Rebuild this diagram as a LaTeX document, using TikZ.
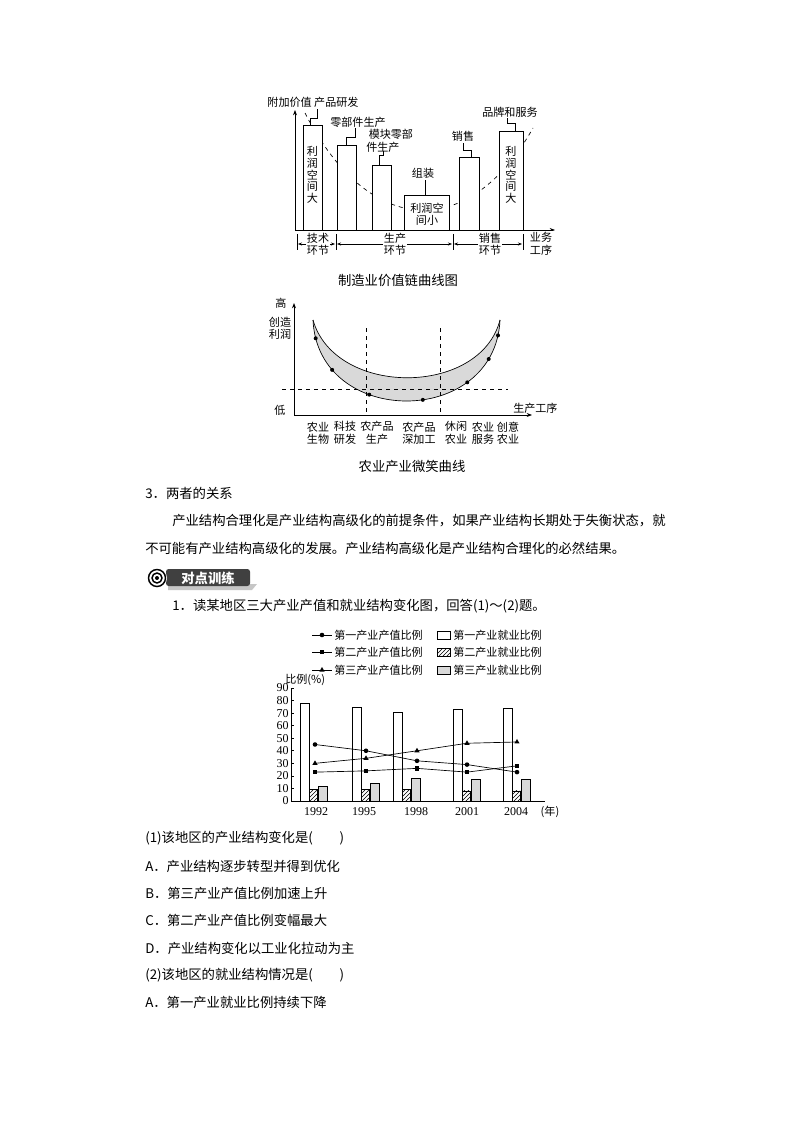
\documentclass[tikz,border=0pt]{standalone}
\usepackage{fontspec}
\setmainfont{Liberation Serif}
\newfontfamily\cjk{Noto Sans CJK SC}
\usetikzlibrary{arrows.meta,patterns}
\begin{document}
\begin{tikzpicture}[x=0.75pt,y=-0.75pt,
  body/.style={anchor=west,inner sep=0,font=\cjk\fontsize{10}{12}\selectfont},
  sm/.style={inner sep=0,font=\cjk\fontsize{8.3}{9.3}\selectfont,align=center},
  num/.style={inner sep=0,font=\fontsize{9}{10}\selectfont},
  bar/.style={draw,fill=white,line width=0.6pt},
  ax/.style={line width=0.6pt},
  lead/.style={line width=0.5pt}]
\useasboundingbox (0,0) rectangle (794,1123);
\fill[white] (0,0) rectangle (794,1123);
% ================= Figure 1
\draw[dashed,line width=0.5pt] (305,113) .. controls (370,240) and (470,240) .. (533,128);
\draw[ax,-{Stealth[length=4pt]}] (295,230) -- (295,110);
\draw[ax,-{Stealth[length=4pt]}] (295,230) -- (555,230);
\draw[bar] (303,230) rectangle (322,125);
\draw[bar] (337,230) rectangle (356,145);
\draw[bar] (372,230) rectangle (391,165);
\draw[bar] (404,230) rectangle (449,195);
\draw[bar] (459,230) rectangle (479,157);
\draw[bar] (499,230) rectangle (523,131);
\node[sm,font=\cjk\fontsize{8.3}{8.8}\selectfont] (v1) at (312.5,175) {利\\润\\空\\间\\大};
\node[sm,font=\cjk\fontsize{8.3}{8.8}\selectfont] (v6) at (511,175) {利\\润\\空\\间\\大};
\node[sm] (v4) at (427,214) {利润空\\间小};
\draw[lead] (310,125) -- (310,118) -- (317,118) -- (317,109);
\draw[lead] (346,145) -- (346,137) -- (355,137) -- (355,128);
\draw[lead] (379,165) -- (379,155) -- (383,155) -- (383,151);
\draw[lead] (425,195) -- (425,180);
\draw[lead] (471,157) -- (471,150) -- (463,150) -- (463,143);
\draw[lead] (515,131) -- (515,123) -- (507,123) -- (507,118);
\node[sm] (l1) at (313,102) {附加价值 产品研发};
\node[sm] (l2) at (358,122) {零部件生产};
\node[sm,align=left,anchor=west] (l3) at (366,141) {\ 模块零部\\件生产};
\node[sm] (l4) at (423,173) {组装};
\node[sm] (l5) at (463,136) {销售};
\node[sm] (l6) at (510,112) {品牌和服务};
\foreach \x in {297,336,453,523} \draw[lead] (\x,234) -- (\x,250);
\draw[lead,{Stealth[length=3pt]}-{Stealth[length=3pt]}] (298,244) -- (335,244);
\draw[lead,{Stealth[length=3pt]}-{Stealth[length=3pt]}] (337,244) -- (452,244);
\draw[lead,{Stealth[length=3pt]}-{Stealth[length=3pt]}] (454,244) -- (522,244);
\node[sm,fill=white,inner sep=1pt] (b1) at (318,244) {技术\\环节};
\node[sm,fill=white,inner sep=1pt] (b2) at (395,244) {生产\\环节};
\node[sm,fill=white,inner sep=1pt] (b3) at (490,244) {销售\\环节};
\node[sm,fill=white,inner sep=1pt] (b4) at (541,244) {业务\\工序};
\node[inner sep=0,font=\cjk\fontsize{10}{11}\selectfont] (c1) at (398,280) {制造业价值链曲线图};
% ================= Figure 2
\fill[gray!30] (313,320) .. controls (318,428) and (495,428) .. (500,320)
  .. controls (480,397) and (335,397) .. (313,320) -- cycle;
\draw[line width=0.5pt] (313,320) .. controls (335,397) and (480,397) .. (500,320);
\draw[line width=0.5pt] (313,320) .. controls (318,428) and (495,428) .. (500,320)
  \foreach \p in {0.06,0.19,0.36,0.56,0.74,0.86,0.95} {node[pos=\p,circle,fill,inner sep=0,minimum size=3pt] {}};
\draw[dashed,line width=0.5pt] (366,328) -- (366,415);
\draw[dashed,line width=0.5pt] (440,328) -- (440,415);
\draw[dashed,line width=0.5pt] (282,389) -- (508,389);
\draw[ax,-{Stealth[length=4pt]}] (294,415) -- (294,303);
\draw[ax,-{Stealth[length=4pt]}] (294,415) -- (532,415);
\node[sm] (g1) at (281,303) {高};
\node[sm] (g2) at (280,328) {创造\\利润};
\node[sm] (g3) at (280,410) {低};
\node[sm,anchor=west] (g4) at (513,408) {生产工序};
\node[sm] (a1) at (318,433) {农业\\生物};
\node[sm] (a2) at (345,433) {科技\\研发};
\node[sm] (a3) at (377,433) {农产品\\生产};
\node[sm] (a4) at (419,433) {农产品\\深加工};
\node[sm] (a5) at (456,433) {休闲\\农业};
\node[sm] (a6) at (483,433) {农业\\服务};
\node[sm] (a7) at (508,433) {创意\\农业};
\node[inner sep=0,font=\cjk\fontsize{10}{11}\selectfont] (c2) at (412,466) {农业产业微笑曲线};
% ================= Text
\node[body] (t1) at (145,493) {3．两者的关系};
\node[body] (t2) at (172,521) {产业结构合理化是产业结构高级化的前提条件，如果产业结构长期处于失衡状态，就};
\node[body] (t3) at (145,548) {不可能有产业结构高级化的发展。产业结构高级化是产业结构合理化的必然结果。};
% badge
\fill[gray!45] (168,584) -- (257,584) -- (252,590) -- (168,590) -- cycle;
\fill[black!75,rounded corners=2pt] (166,569) rectangle (250,586);
\node[inner sep=0,text=white,font=\cjk\bfseries\fontsize{10}{12}\selectfont] (bd) at (208,578) {对点训练};
\fill[white] (157,578) circle (10);
\draw[line width=1.1pt] (157,578) circle (8.5);
\draw[line width=1.1pt] (157,578) circle (5);
\fill (157,578) circle (2);
\node[body] (t4) at (172,606) {1．读某地区三大产业产值和就业结构变化图，回答(1)～(2)题。};
% ================= Figure 3
\begin{scope}[every node/.style={sm}]
\draw[lead] (312,635) -- (332,635); \fill (322,635) circle (2.3);
\node[anchor=west] (k1) at (334,635) {第一产业产值比例};
\draw[lead] (312,652) -- (332,652); \fill (319.7,649.7) rectangle (324.3,654.3);
\node[anchor=west] (k2) at (334,652) {第二产业产值比例};
\draw[lead] (312,670) -- (332,670); \fill (322,667) -- (319.4,671.5) -- (324.6,671.5) -- cycle;
\node[anchor=west] (k3) at (334,670) {第三产业产值比例};
\draw[lead] (437,631) rectangle (450,639);
\node[anchor=west] (k4) at (453,635) {第一产业就业比例};
\draw[lead,pattern=north east lines] (437,648) rectangle (450,656);
\node[anchor=west] (k5) at (453,652) {第二产业就业比例};
\draw[lead,fill=gray!30] (437,666) rectangle (450,674);
\node[anchor=west] (k6) at (453,670) {第三产业就业比例};
\node[anchor=west] (yl) at (285,680) {比例(\%)};
\end{scope}
\def\Y#1{801-1.2556*#1}
\draw[ax] (291,688) -- (291,801) -- (545,801);
\foreach \v in {0,10,...,90} {
  \draw[lead] (291,{\Y{\v}}) -- (294,{\Y{\v}});
  \node[num,anchor=east] at (289,{\Y{\v}}) {\v};}
\foreach \wl/\w/\h/\g in {300/78/9/12,352/75/9/14,393/71/9/18,453/73/8/17,503/74/8/17}{
  \draw[lead,fill=white] (\wl,801) rectangle (\wl+9,{\Y{\w}});
  \draw[lead,pattern=north east lines] (\wl+9,801) rectangle (\wl+17,{\Y{\h}});
  \draw[lead,fill=gray!30] (\wl+18,801) rectangle (\wl+27,{\Y{\g}});
}
\draw[lead] (315,{\Y{45}}) -- (366,{\Y{40}}) -- (417,{\Y{32}}) -- (467,{\Y{29}}) -- (517,{\Y{23}});
\foreach \x/\v in {315/45,366/40,417/32,467/29,517/23} \fill (\x,{\Y{\v}}) circle (2.3);
\draw[lead] (315,{\Y{23}}) -- (366,{\Y{24}}) -- (417,{\Y{26}}) -- (467,{\Y{23}}) -- (517,{\Y{28}});
\foreach \x/\v in {315/23,366/24,417/26,467/23,517/28} \fill (\x-2.3,{\Y{\v}-2.3}) rectangle (\x+2.3,{\Y{\v}+2.3});
\draw[lead] (315,{\Y{30}}) -- (366,{\Y{34}}) -- (417,{\Y{40}}) -- (467,{\Y{46}}) -- (517,{\Y{47}});
\foreach \x/\v in {315/30,366/34,417/40,467/46,517/47} \fill (\x,{\Y{\v}-3}) -- (\x-2.6,{\Y{\v}+1.5}) -- (\x+2.6,{\Y{\v}+1.5}) -- cycle;
\foreach \x/\yr in {316/1992,364/1995,416/1998,467/2001,516/2004} \node[num] at (\x,812) {\yr};
\node[sm] (nian) at (550,812) {(年)};
% ================= Questions
\node[body] (q1) at (145,838) {(1)该地区的产业结构变化是(　　)};
\node[body] (q1a) at (145,866) {A．产业结构逐步转型并得到优化};
\node[body] (q1b) at (145,893) {B．第三产业产值比例加速上升};
\node[body] (q1c) at (145,920) {C．第二产业产值比例变幅最大};
\node[body] (q1d) at (145,948) {D．产业结构变化以工业化拉动为主};
\node[body] (q2) at (145,975) {(2)该地区的就业结构情况是(　　)};
\node[body] (q2a) at (145,1002) {A．第一产业就业比例持续下降};
\end{tikzpicture}
\end{document}
